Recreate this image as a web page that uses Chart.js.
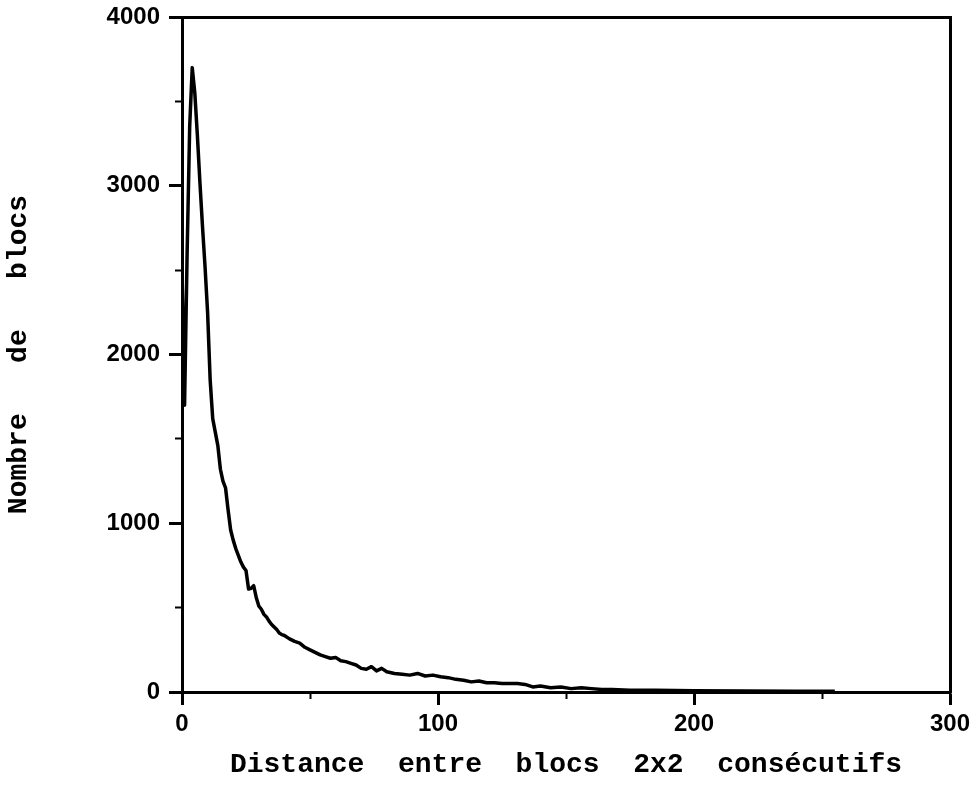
<!DOCTYPE html>
<html>
<head>
<meta charset="utf-8">
<script src="https://cdn.jsdelivr.net/npm/chart.js@4.4.1/dist/chart.umd.min.js"></script>
<style>
  html, body { margin: 0; padding: 0; background: #fff; }
  #wrap { width: 979px; height: 798px; }
</style>
</head>
<body>
<div id="wrap"><canvas id="distChart"></canvas></div>
<script>
// distance entre blocs 2x2 consécutifs -> nombre de blocs
const distances = [
  0, 1, 2, 3, 4, 5, 6, 7, 8, 9, 10, 11, 12, 13, 14, 15, 16, 17, 18, 19,
  20, 21, 22, 23, 24, 25, 26, 27, 28, 29, 30, 31, 32, 33, 34, 35, 36, 37, 38, 39,
  40, 42, 44, 46, 48, 50, 52, 54, 56, 58, 60, 62, 64, 66, 68, 70, 72, 74, 76, 78,
  80, 83, 86, 89, 92, 95, 98, 101, 104, 107, 110, 113, 116, 119, 122, 125, 128, 131, 134, 137,
  140, 144, 148, 152, 156, 160, 164, 168, 175, 185, 200, 220, 240, 255
];
const nbBlocs = [
  2500, 1700, 2600, 3350, 3700, 3550, 3300, 3020, 2760, 2520, 2250, 1850, 1620, 1540, 1460, 1320, 1250, 1210, 1080, 960,
  900, 850, 810, 770, 740, 720, 610, 615, 630, 560, 510, 490, 460, 445, 420, 400, 385, 370, 350, 340,
  335, 315, 300, 290, 265, 250, 235, 220, 210, 200, 205, 185, 180, 170, 160, 140, 135, 150, 125, 140,
  120, 110, 105, 100, 110, 95, 100, 90, 85, 75, 70, 60, 65, 55, 55, 50, 50, 50, 45, 30,
  35, 25, 30, 20, 25, 20, 15, 15, 10, 10, 8, 6, 5, 5
];
const xTicks = [0, 100, 200, 300];
const yTicks = [0, 1000, 2000, 3000, 4000];

const xTickFont = { family: "'Liberation Sans', Arial, sans-serif", size: 24, weight: 'bold', lineHeight: 1 };
const yTickFont = { family: "'Liberation Sans', Arial, sans-serif", size: 24, weight: 'bold', lineHeight: 0.5 };
const titleFont = { family: "'Liberation Mono', 'Courier New', monospace", size: 28, weight: 'bold' };

const distData = {
  datasets: [{
    data: distances.map((d, i) => ({ x: d, y: nbBlocs[i] })),
    borderColor: '#000',
    borderWidth: 3.5,
    borderJoinStyle: 'round',
    pointRadius: 0,
    tension: 0,
    xAxisID: 'x',
    yAxisID: 'y'
  }]
};

const distConfig = {
  type: 'line',
  data: distData,
  options: {
    animation: false,
    responsive: true,
    maintainAspectRatio: false,
    devicePixelRatio: 1,
    layout: { padding: { left: 0, top: 17, right: 29, bottom: 0 } },
    plugins: { legend: { display: false }, tooltip: { enabled: false } },
    scales: {
      x: {
        type: 'linear', position: 'bottom', weight: 1,
        min: 0, max: 300,
        afterBuildTicks: s => { s.ticks = xTicks.map(v => ({ value: v })); },
        ticks: { font: xTickFont, color: '#000', padding: 7, maxRotation: 0, callback: v => String(v) },
        grid: { drawOnChartArea: false, tickLength: 13, tickWidth: 3, tickColor: '#000' },
        border: { display: true, color: '#000', width: 3 },
        title: { display: true, text: 'Distance  entre  blocs  2x2  consécutifs', font: titleFont, color: '#000', padding: { top: 0, bottom: 16 } },
        afterFit: s => { s.height = 106; }
      },
      xMinor: {
        type: 'linear', position: 'bottom', weight: 0,
        min: 0, max: 300,
        ticks: { display: false, stepSize: 50 },
        grid: { drawOnChartArea: false, tickLength: 7, tickWidth: 2, tickColor: '#000' },
        border: { display: false },
        afterFit: s => { s.height = 0; }
      },
      y: {
        type: 'linear', position: 'left', weight: 1,
        min: 0, max: 4000,
        afterBuildTicks: s => { s.ticks = yTicks.map(v => ({ value: v })); },
        ticks: { font: yTickFont, color: '#000', padding: 9, callback: v => String(v) },
        grid: { drawOnChartArea: false, tickLength: 13, tickWidth: 3, tickColor: '#000' },
        border: { display: true, color: '#000', width: 3 },
        title: { display: true, text: 'Nombre   de   blocs', font: titleFont, color: '#000', padding: { top: 2, bottom: 0 } },
        afterFit: s => { s.width = 182; }
      },
      yMinor: {
        type: 'linear', position: 'left', weight: 0,
        min: 0, max: 4000,
        ticks: { display: false, stepSize: 500 },
        grid: { drawOnChartArea: false, tickLength: 7, tickWidth: 2, tickColor: '#000' },
        border: { display: false },
        afterFit: s => { s.width = 0; }
      },
      xTop: {
        type: 'linear', position: 'top', min: 0, max: 1,
        ticks: { display: false },
        grid: { display: true, drawOnChartArea: false, drawTicks: false },
        border: { display: true, color: '#000', width: 3 },
        afterFit: s => { s.height = 0; }
      },
      yRight: {
        type: 'linear', position: 'right', min: 0, max: 1,
        ticks: { display: false },
        grid: { display: true, drawOnChartArea: false, drawTicks: false },
        border: { display: true, color: '#000', width: 3 },
        afterFit: s => { s.width = 0; }
      }
    }
  }
};

const distElement = document.querySelector('#distChart');
const distChart = new Chart(distElement, distConfig);
</script>
</body>
</html>
